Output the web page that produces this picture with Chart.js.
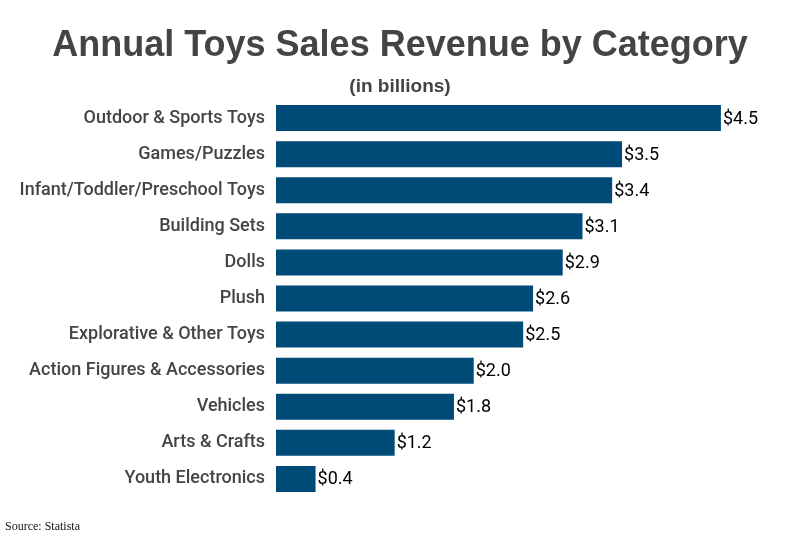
<!DOCTYPE html>
<html>
<head>
<meta charset="utf-8">
<script src="https://cdn.jsdelivr.net/npm/chart.js@4"></script>
<style>
  html, body { margin: 0; padding: 0; background: #fff; }
  #wrap { width: 800px; height: 540px; }
</style>
</head>
<body>
<div id="wrap"><canvas id="bar-chart"></canvas></div>
<script>
const categories = [
    "Outdoor & Sports Toys",
    "Games/Puzzles",
    "Infant/Toddler/Preschool Toys",
    "Building Sets",
    "Dolls",
    "Plush",
    "Explorative & Other Toys",
    "Action Figures & Accessories",
    "Vehicles",
    "Arts & Crafts",
    "Youth Electronics"
];
const revenue = [4.5, 3.5, 3.4, 3.1, 2.9, 2.6, 2.5, 2.0, 1.8, 1.2, 0.4];

// value labels at the end of each bar
const valueLabels = {
    id: 'valueLabels',
    afterDatasetsDraw(chart) {
        const ctx = chart.ctx;
        const meta = chart.getDatasetMeta(0);
        ctx.save();
        ctx.font = '18px Roboto';
        ctx.fillStyle = '#000';
        ctx.textAlign = 'left';
        ctx.textBaseline = 'middle';
        meta.data.forEach((bar, i) => {
            ctx.fillText('$' + revenue[i].toFixed(1), bar.x + 2, bar.y + 1);
        });
        ctx.restore();
    }
};

// source note bottom left
const sourceNote = {
    id: 'sourceNote',
    afterDraw(chart) {
        const ctx = chart.ctx;
        ctx.save();
        ctx.font = '12px "Liberation Serif"';
        ctx.fillStyle = '#111';
        ctx.textAlign = 'left';
        ctx.textBaseline = 'middle';
        ctx.fillText('Source: Statista', 5, 527);
        ctx.restore();
    }
};

new Chart(document.getElementById("bar-chart"), {
    type: 'bar',
    data: {
        labels: categories,
        datasets: [{
            label: "Revenue",
            backgroundColor: "#004a78",
            data: revenue,
            barPercentage: 0.72,
            categoryPercentage: 1
        }]
    },
    options: {
        indexAxis: 'y',
        responsive: true,
        maintainAspectRatio: false,
        animation: false,
        layout: {
            padding: { left: 0, right: 0, top: 0, bottom: 43 }
        },
        scales: {
            x: {
                display: false,
                min: 0,
                max: 5.3
            },
            y: {
                grid: { display: false, drawBorder: false },
                border: { display: false },
                ticks: {
                    color: '#444',
                    font: { family: 'Roboto', size: 18, weight: '500' },
                    padding: 3
                },
                afterFit(scale) {
                    scale.width = 276;
                }
            }
        },
        plugins: {
            legend: { display: false },
            tooltip: { enabled: false },
            title: {
                display: true,
                text: 'Annual Toys Sales Revenue by Category',
                color: '#444',
                font: { family: 'Liberation Sans', size: 36, weight: 'bold', lineHeight: 1 },
                padding: { top: 28, bottom: 13 }
            },
            subtitle: {
                display: true,
                text: '(in billions)',
                color: '#444',
                font: { family: 'Liberation Sans', size: 19, weight: 'bold', lineHeight: 1 },
                padding: { top: 0, bottom: 4 }
            }
        }
    },
    plugins: [valueLabels, sourceNote]
});
</script>
</body>
</html>
